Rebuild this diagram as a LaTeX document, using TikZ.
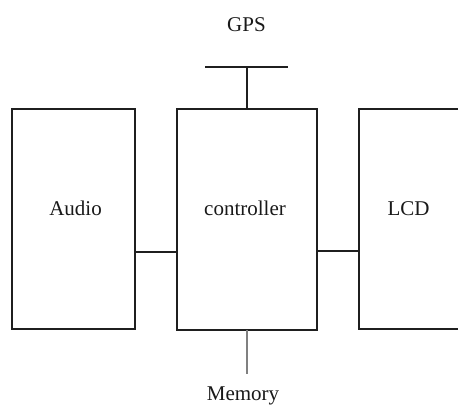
\documentclass[tikz,border=0pt]{standalone}
\usepackage{fontspec}
\setmainfont{Liberation Serif}
\begin{document}
\begin{tikzpicture}[x=1pt,y=-1pt,
  blk/.style={draw=black!88,line width=1.5pt,minimum width=#1,minimum height=220pt,inner sep=0pt,outer sep=0pt},
  lbl/.style={anchor=base,inner sep=0pt,font=\fontsize{21}{25}\selectfont,text=black!90},
  wire/.style={draw=black!88,line width=1.5pt},
  memline/.style={draw=black!50,line width=2pt}]
\useasboundingbox (0,0) rectangle (458,406);
\clip (0,0) rectangle (458,406);
\node[blk=123pt] (audio) at (73.5,219) {};
\node[blk=140pt,minimum height=221pt] (ctrl) at (247,219.5) {};
\node[blk=140pt] (lcd) at (429,219) {};
\node[lbl] (audiot) at (75.5,216) {Audio};
\node[lbl] (ctrlt) at (245,216) {controller};
\node[lbl] (lcdt) at (408.5,216) {LCD};
\node[lbl] (gps) at (246.5,32) {GPS};
\node[lbl] (mem) at (243,400) {Memory};
\coordinate (gpsL) at (205,67);
\coordinate (gpsR) at (288,67);
\draw[wire] (gpsL) -- (gpsR);
\draw[wire] (ctrl.north) -- (ctrl.north |- gpsL);
\draw[wire] ([yshift=-33pt]audio.east) -- ([yshift=-33pt]audio.east -| ctrl.west);
\draw[wire] ([yshift=-32pt]lcd.west -| ctrl.east) -- ([yshift=-32pt]lcd.west);
\draw[memline,shorten >=12pt] (ctrl.south) -- (ctrl.south |- mem.north);
\end{tikzpicture}
\end{document}
